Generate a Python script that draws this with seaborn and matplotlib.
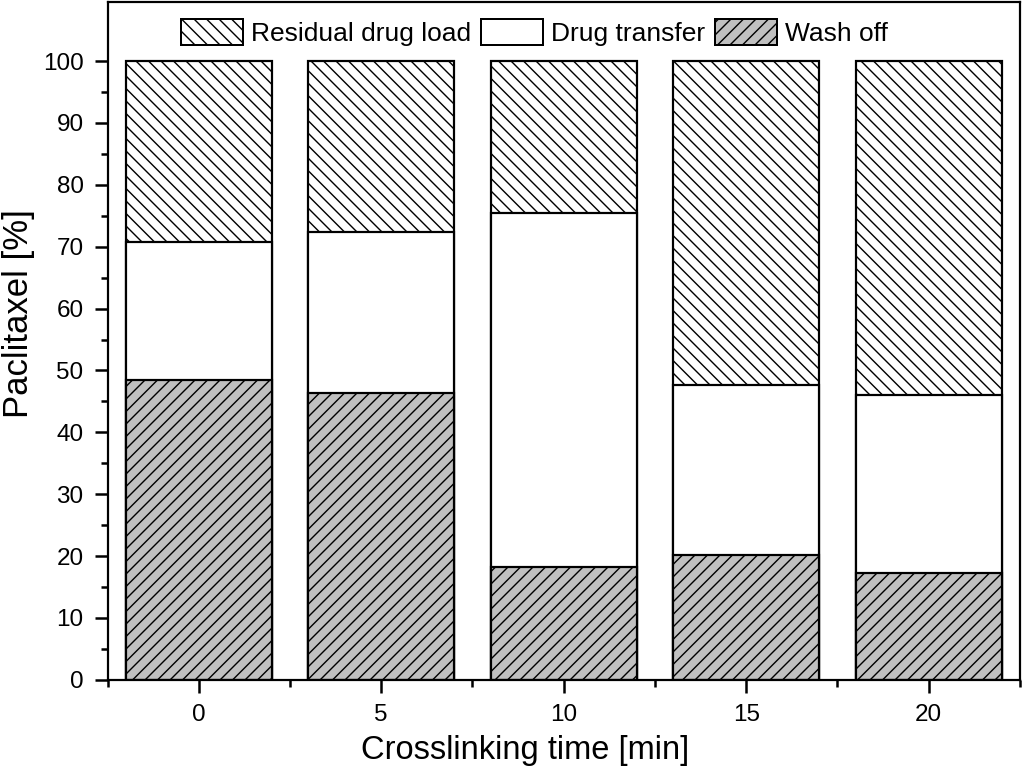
import numpy as np
import pandas as pd
import matplotlib
matplotlib.use('Agg')
import matplotlib.pyplot as plt
import seaborn as sns
from matplotlib.patches import Patch
from matplotlib.ticker import MultipleLocator

# ===============================
# Data
# ===============================
times = [0, 5, 10, 15, 20]
wash_off = [48.4, 46.4, 18.3, 20.2, 17.3]
drug_transfer = [22.3, 25.9, 57.1, 27.4, 28.8]
residual = [100 - w - d for w, d in zip(wash_off, drug_transfer)]

df = pd.DataFrame({'time': times, 'wash': wash_off,
                   'transfer': drug_transfer, 'residual': residual})
df['top_transfer'] = df['wash'] + df['transfer']
df['top_residual'] = df['top_transfer'] + df['residual']

# dpi 150 gives hatch spacing close to the original; sizes given in "100 dpi points"
DPI = 150
S = 100 / DPI

def px(n):
    # pixels -> points
    return n * 72 / DPI

sns.set_style('ticks')
plt.rcParams['font.family'] = ['Liberation Sans', 'DejaVu Sans']
plt.rcParams['hatch.linewidth'] = px(1.4)
for k in ['text.color', 'axes.labelcolor', 'xtick.color', 'ytick.color', 'axes.edgecolor']:
    plt.rcParams[k] = 'black'

HATCH_RES = '\\' * 4
HATCH_WASH = '/' * 4

fig, ax = plt.subplots(figsize=(1024 / DPI, 769 / DPI), dpi=DPI)

# stacked bars drawn tallest first
sns.barplot(data=df, x='time', y='top_residual', native_scale=True, color='white',
            edgecolor='black', linewidth=px(2.2), hatch=HATCH_RES, ax=ax)
sns.barplot(data=df, x='time', y='top_transfer', native_scale=True, color='white',
            edgecolor='black', linewidth=px(2.2), ax=ax)
sns.barplot(data=df, x='time', y='wash', native_scale=True, color='#c0c0c0',
            edgecolor='black', linewidth=px(2.2), hatch=HATCH_WASH, ax=ax)
for p in ax.patches:
    p.set_facecolor(p.get_facecolor()[:3] + (1.0,))

ax.set_xlim(-2.5, 22.5)
ax.set_ylim(0, 109.5)
ax.set_xticks(times)
ax.xaxis.set_minor_locator(MultipleLocator(2.5))
ax.set_yticks(np.arange(0, 101, 10))
ax.set_yticks(np.arange(5, 100, 10), minor=True)
ax.tick_params(which='major', length=px(13), width=px(2.5), labelsize=17.5 * S,
               direction='out', pad=px(11))
ax.tick_params(which='minor', length=px(7), width=px(2.5), direction='out')
for s in ax.spines.values():
    s.set_visible(True)
    s.set_linewidth(px(2.2))

ax.set_xlabel('Crosslinking time [min]', fontsize=23.5 * S)
ax.set_ylabel('Paclitaxel [%]', fontsize=25 * S)
ax.xaxis.set_label_coords(0.458, -0.082)
ax.yaxis.set_label_coords(-0.079, 0.54)

handles = [Patch(facecolor='white', edgecolor='black', linewidth=px(2), hatch=HATCH_RES,
                 label='Residual drug load'),
           Patch(facecolor='white', edgecolor='black', linewidth=px(2), label='Drug transfer'),
           Patch(facecolor='#c0c0c0', edgecolor='black', linewidth=px(2), hatch=HATCH_WASH,
                 label='Wash off')]
ax.legend(handles=handles, loc='upper center', ncol=3, frameon=False, fontsize=19 * S,
          handlelength=2.35, handleheight=1.1, handletextpad=0.3, columnspacing=0.38,
          bbox_to_anchor=(0.468, 1.0), borderaxespad=0.25)

plt.subplots_adjust(left=0.105, right=0.996, top=0.997, bottom=0.116)
plt.savefig('out.png', dpi=DPI)
plt.close()
